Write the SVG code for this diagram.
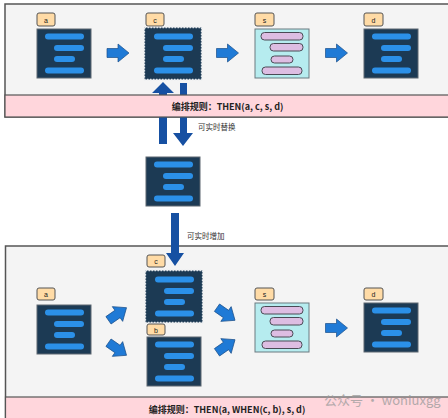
<svg xmlns="http://www.w3.org/2000/svg" xmlns:xlink="http://www.w3.org/1999/xlink" width="448" height="418" viewBox="0 0 448 418">
<style>
.panel{fill:#f4f4f4;stroke:#555;stroke-width:1.5}
.band{fill:#ffd6dc;stroke:#555;stroke-width:1.2}
.rule{font-family:"Noto Sans CJK SC","Noto Sans",sans-serif;font-size:9px;font-weight:bold;fill:#222}
.lbl{font-family:"Noto Sans CJK SC","Noto Sans",sans-serif;font-size:7.5px;fill:#333}
.tab{fill:#ffdba6;stroke:#555;stroke-width:1}
.tabt{font-family:"Liberation Sans",Arial,sans-serif;font-size:7px;fill:#222;text-anchor:middle}
.dark{fill:#1c3a54;stroke:#5d6770;stroke-width:1}
.bar{fill:#2b90e8}
.light{fill:#b6ecef;stroke:#6b7a80;stroke-width:1}
.pbar{fill:#ddbde2;stroke:#4a4a55;stroke-width:1}
.harrow{fill:#1f7ad6;stroke:#1a4f8a;stroke-width:0.7}
.varrow{fill:#1650a2}
.dots{fill:none;stroke:#e4e8ec;stroke-width:1.3;stroke-dasharray:1.5 1.5}
.wm{font-family:"Noto Sans CJK SC","Noto Sans",sans-serif;font-size:13px;fill:#9a9a9a;opacity:0.75}
</style>
<defs>
<g id="darknode">
<rect class="dark" x="0" y="0" width="54" height="49"/>
<rect class="bar" x="8" y="4.5" width="39" height="6" rx="3"/>
<rect class="bar" x="17" y="16" width="30" height="6" rx="3"/>
<rect class="bar" x="17" y="27" width="21" height="6" rx="3"/>
<rect class="bar" x="8" y="38.5" width="39" height="6" rx="3"/>
</g>
<g id="dotnode">
<rect x="-1.5" y="-1.5" width="57" height="52" fill="#1c3a54"/>
<rect class="dots" x="-1.5" y="-1.5" width="57" height="52"/>
<rect class="bar" x="8" y="4.5" width="39" height="6" rx="3"/>
<rect class="bar" x="17" y="16" width="30" height="6" rx="3"/>
<rect class="bar" x="17" y="27" width="21" height="6" rx="3"/>
<rect class="bar" x="8" y="38.5" width="39" height="6" rx="3"/>
</g>
<g id="snode">
<rect class="light" x="0" y="0" width="54" height="49"/>
<rect class="pbar" x="6" y="3.5" width="42" height="7.5" rx="3.5"/>
<rect class="pbar" x="15" y="14.5" width="33" height="7.5" rx="3.5"/>
<rect class="pbar" x="16" y="27" width="22" height="7" rx="3.5"/>
<rect class="pbar" x="7" y="38" width="40" height="7.5" rx="3.5"/>
</g>
<path id="harr" class="harrow" d="M-11,-4.5 H0 V-9 L11,0 L0,9 V4.5 H-11 Z"/>
</defs>

<!-- top panel -->
<rect class="panel" x="5" y="4" width="460" height="113"/>

<g id="connectors-top">
<use xlink:href="#harr" transform="translate(118,53)"/>
<use xlink:href="#harr" transform="translate(227.5,53)"/>
<use xlink:href="#harr" transform="translate(336.5,53)"/>
<path class="varrow" d="M163,82 L174,93 H167 V144 H159 V93 H152 Z"/>
<path class="varrow" d="M180,83 H187 V133 H193 L183,146 L173,133 H180 Z"/>
</g>

<rect class="band" x="5" y="95" width="460" height="22"/>
<text class="rule" x="227.5" y="109.5" text-anchor="middle">编排规则：THEN(a, c, s, d)</text>

<g id="top-a">
<rect class="tab" x="37" y="13" width="18" height="13" rx="2"/>
<text class="tabt" x="46" y="22.5">a</text>
<use xlink:href="#darknode" x="37" y="29"/>
</g>
<g id="top-c">
<rect class="tab" x="146" y="13" width="18" height="13" rx="2"/>
<text class="tabt" x="155" y="22.5">c</text>
<use xlink:href="#dotnode" x="146" y="29"/>
</g>
<g id="top-s">
<rect class="tab" x="255" y="13" width="19" height="13" rx="2"/>
<text class="tabt" x="264.5" y="22.5">s</text>
<use xlink:href="#snode" x="255" y="29"/>
</g>
<g id="top-d">
<rect class="tab" x="364" y="13" width="19" height="13" rx="2"/>
<text class="tabt" x="373.5" y="22.5">d</text>
<use xlink:href="#darknode" x="364" y="29"/>
</g>

<text class="lbl" x="198" y="130">可实时替换</text>

<g id="mid-node">
<use xlink:href="#darknode" x="146" y="157"/>
</g>

<!-- bottom panel -->
<rect class="panel" x="5.5" y="246" width="460" height="180"/>
<rect class="band" x="5.5" y="397" width="460" height="30"/>
<text class="rule" x="227" y="413" text-anchor="middle">编排规则：THEN(a, WHEN(c, b), s, d)</text>

<g id="connectors-bottom">
<path class="varrow" d="M171,213 H179 V253 H184 L175,266 L166,253 H171 Z"/>
<use xlink:href="#harr" transform="translate(117.5,314) rotate(-35)"/>
<use xlink:href="#harr" transform="translate(117.5,349) rotate(35)"/>
<use xlink:href="#harr" transform="translate(226,314) rotate(35)"/>
<use xlink:href="#harr" transform="translate(226,346) rotate(-35)"/>
<use xlink:href="#harr" transform="translate(336.5,328)"/>
</g>
<text class="lbl" x="187" y="239">可实时增加</text>

<g id="bot-a">
<rect class="tab" x="37" y="288" width="18" height="12" rx="2"/>
<text class="tabt" x="46" y="297">a</text>
<use xlink:href="#darknode" x="37" y="305"/>
</g>
<g id="bot-c">
<rect class="tab" x="147" y="255" width="18" height="12" rx="2"/>
<text class="tabt" x="156" y="264">c</text>
<use xlink:href="#dotnode" x="147" y="272"/>
</g>
<g id="bot-b">
<rect class="tab" x="147" y="324" width="18" height="11" rx="2"/>
<text class="tabt" x="156" y="332.5">b</text>
<use xlink:href="#darknode" x="147" y="337"/>
</g>
<g id="bot-s">
<rect class="tab" x="255" y="288" width="19" height="12" rx="2"/>
<text class="tabt" x="264.5" y="297">s</text>
<use xlink:href="#snode" x="255" y="303"/>
</g>
<g id="bot-d">
<rect class="tab" x="364" y="288" width="19" height="12" rx="2"/>
<text class="tabt" x="373.5" y="297">d</text>
<use xlink:href="#darknode" x="364" y="303"/>
</g>

<text class="wm" x="324" y="405">公众号 · woniuxgg</text>
</svg>
